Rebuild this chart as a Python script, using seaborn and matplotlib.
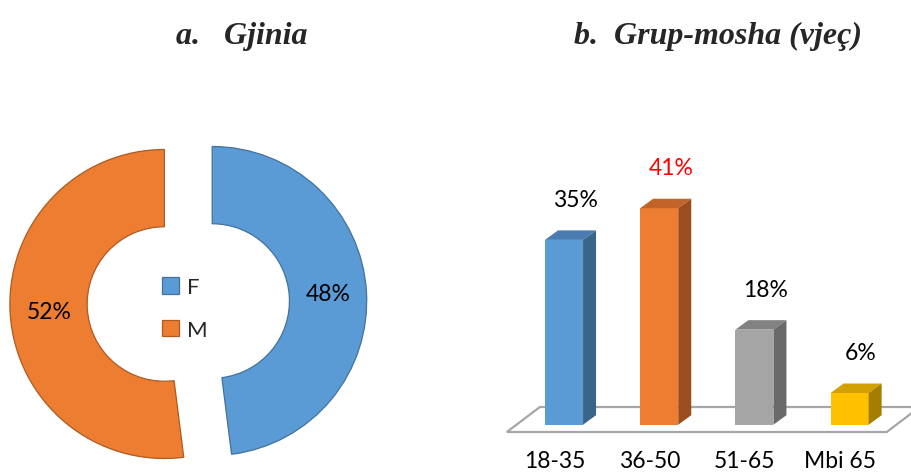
import matplotlib
matplotlib.use("Agg")
import matplotlib.pyplot as plt
import matplotlib.transforms as mtransforms
from matplotlib.patches import Polygon
import seaborn as sns

# ---------------- data ----------------
gender_labels = ["F", "M"]
gender_values = [48, 52]
gender_colors = ["#5B9BD5", "#ED7D31"]
gender_edges = ["#41719C", "#AE5A21"]

age_groups = ["18-35", "36-50", "51-65", "Mbi 65"]
age_values = [35, 41, 18, 6]
age_label_text = ["35%", "41%", "18%", "6%"]
age_label_colors = ["black", "red", "black", "black"]
front_colors = ["#5B9BD5", "#ED7D31", "#A5A5A5", "#FFC000"]
top_colors = ["#4A7CB2", "#C2632A", "#828282", "#D2A000"]
side_colors = ["#3B6489", "#9B4D1D", "#6A6A6A", "#A57D00"]

title_a = "a.   Gjinia"
title_b = "b.  Grup-mosha (vjeç)"

# ---------------- figure ----------------
sns.set_style("white")
plt.rcParams["font.family"] = ["Lato", "DejaVu Sans"]

W, H = 912, 477
fig = plt.figure(figsize=(W / 100, H / 100), dpi=100)


def frac_box(x0, y0, x1, y1):
    """pixel box (top-origin) -> figure fraction rect"""
    return [x0 / W, (H - y1) / H, (x1 - x0) / W, (y1 - y0) / H]


# ---------------- donut ----------------
ax1 = fig.add_axes(frac_box(0, 130, 380, 477))
cx, cy, R = 188.3, 303.5, 154.5
wedges, texts, autotexts = ax1.pie(
    gender_values,
    explode=[0.155, 0.155],
    startangle=90,
    counterclock=False,
    colors=gender_colors,
    autopct="%d%%",
    pctdistance=0.75,
    wedgeprops=dict(width=0.5, linewidth=0.9),
    textprops=dict(fontsize=16.5, color="black"),
)
for w, ec in zip(wedges, gender_edges):
    w.set_edgecolor(ec)
ax1.set_aspect("auto")
ax1.set_xlim((0 - cx) / R, (380 - cx) / R)
ax1.set_ylim((cy - 477) / R, (cy - 130) / R)
ax1.axis("off")
leg = ax1.legend(
    wedges,
    gender_labels,
    loc="center",
    bbox_to_anchor=((185 - cx) / R, (cy - 309.5) / R),
    bbox_transform=ax1.transData,
    frameon=False,
    fontsize=16,
    handlelength=0.78,
    handleheight=0.78,
    handletextpad=0.35,
    labelspacing=1.0,
)

# ---------------- 3D-like bars ----------------
x0_px, x1_px, y0_px, y1_px = 500, 912, 140, 440
ax2 = fig.add_axes(frac_box(x0_px, y0_px, x1_px, y1_px))
pitch, base_px, k = 95.2, 425.7, 5.28
first_center_px = 564

sns.barplot(
    x=age_groups,
    y=age_values,
    hue=age_groups,
    palette=front_colors,
    saturation=1,
    legend=False,
    width=0.4,
    ax=ax2,
    zorder=3,
    linewidth=0,
)
ax2.set_xlim((x0_px - first_center_px) / pitch, (x1_px - first_center_px) / pitch)
ax2.set_ylim((base_px - y1_px) / k, (base_px - y0_px) / k)

dx = 13 / pitch
dy = 9.5 / k

# floor
n = len(age_groups)
fl, fr = -0.6, n - 1 + 0.39
f_front, f_back = (base_px - 433) / k, (base_px - 408) / k
f_shift = 33 / pitch
floor = Polygon(
    [(fl, f_front), (fr, f_front), (fr + f_shift, f_back), (fl + f_shift, f_back)],
    closed=True, facecolor="white", edgecolor="#A6A6A6", linewidth=1.6,
    zorder=1, clip_on=False, joinstyle="miter",
)
ax2.add_patch(floor)

bars = [p for p in ax2.patches if p is not floor]
for i, bar in enumerate(bars):
    bx, bw, bh = bar.get_x(), bar.get_width(), bar.get_height()
    top = Polygon(
        [(bx, bh), (bx + bw, bh), (bx + bw + dx, bh + dy), (bx + dx, bh + dy)],
        closed=True, facecolor=top_colors[i], edgecolor="none", zorder=3,
    )
    side = Polygon(
        [(bx + bw, 0), (bx + bw + dx, dy), (bx + bw + dx, bh + dy), (bx + bw, bh)],
        closed=True, facecolor=side_colors[i], edgecolor="none", zorder=3,
    )
    ax2.add_patch(top)
    ax2.add_patch(side)
    ax2.annotate(
        age_label_text[i],
        xy=(bx + bw / 2, bh),
        xytext=(11.5 * 0.72, 34 * 0.72),
        textcoords="offset points",
        ha="center", va="baseline",
        fontsize=16.5, color=age_label_colors[i],
    )

sns.despine(ax=ax2, left=True, bottom=True)
ax2.set_yticks([])
ax2.set_xlabel("")
ax2.set_ylabel("")
ax2.tick_params(axis="x", length=0, pad=8, labelsize=16.5, labelcolor="black")
shift = mtransforms.ScaledTranslation(-9.5 / 100, 0, fig.dpi_scale_trans)
for lab in ax2.get_xticklabels():
    lab.set_transform(lab.get_transform() + shift)

# ---------------- titles ----------------
tkw = dict(ha="center", va="baseline", fontsize=23, fontweight="bold",
           fontstyle="italic", family=["Liberation Serif", "DejaVu Serif"])
fig.text(242 / W, 1 - 44 / H, title_a, **tkw)
fig.text(718.5 / W, 1 - 44 / H, title_b, **tkw)

fig.savefig("out.png", dpi=100)
